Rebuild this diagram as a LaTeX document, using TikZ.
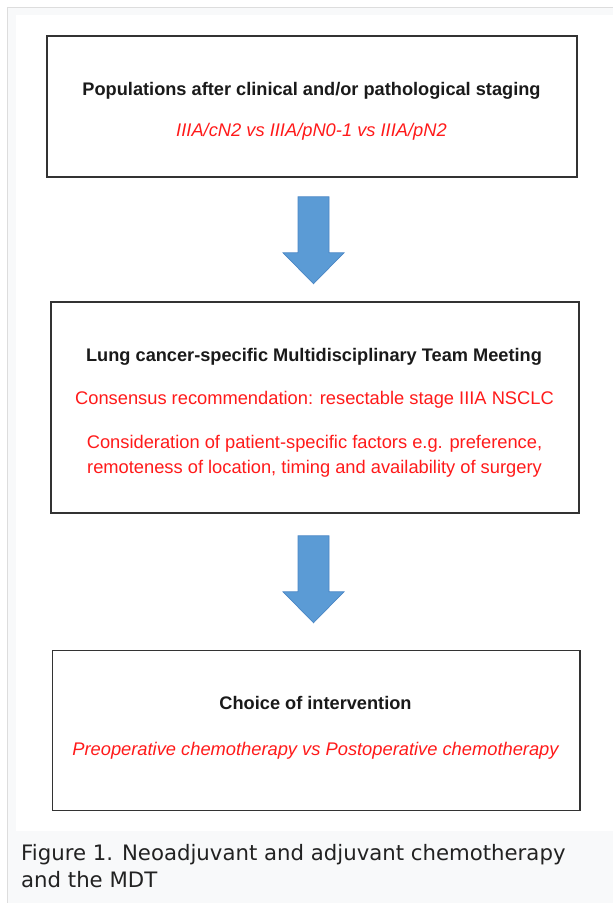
\documentclass[tikz,border=0pt]{standalone}
\usepackage{fontspec}
\usetikzlibrary{calc}
\setmainfont{Liberation Sans}
\newfontfamily\capfont{DejaVu Sans}
\definecolor{frameline}{HTML}{DDDDDD}
\definecolor{framefill}{HTML}{F8F9FA}
\definecolor{boxline}{HTML}{333333}
\definecolor{arrowfill}{HTML}{5B9BD5}
\definecolor{arrowline}{HTML}{4A86C5}
\definecolor{txtred}{HTML}{FF1A1A}
\definecolor{txtdark}{HTML}{1A1A1A}
\definecolor{captxt}{HTML}{222222}
\tikzset{
  stagebox/.style={draw=boxline, line width=1.5pt, fill=white, inner sep=0pt},
  titletxt/.style={anchor=base, inner sep=0pt, text=txtdark, font=\fontsize{18.2}{22}\selectfont\bfseries},
  redtxt/.style={anchor=base, inner sep=0pt, text=txtred, font=\fontsize{18.3}{22}\selectfont},
  reditxt/.style={anchor=base, inner sep=0pt, text=txtred, font=\fontsize{18.3}{22}\selectfont\itshape},
  captiontxt/.style={anchor=base west, inner sep=0pt, text=captxt, font=\capfont\fontsize{21.25}{27}\selectfont},
  blockarrow/.pic={\filldraw[fill=arrowfill, draw=arrowline, line width=0.7pt, line join=miter]
     (-15.5,0) -- (15.5,0) -- (15.5,56) -- (30.5,56) -- (0,87) -- (-30.5,56) -- (-15.5,56) -- cycle;}
}
\begin{document}
\begin{tikzpicture}[x=1pt, y=-1pt]
\useasboundingbox (0,0) rectangle (613,903);
% page frame
\fill[white] (0,0) rectangle (613,903);
\filldraw[fill=framefill, draw=frameline, line width=1.2pt] (7.5,7.5) rectangle (620,910);
\fill[white] (15.5,14.5) rectangle (613,830.5);
% boxes
\node[stagebox, minimum width=530pt, minimum height=141pt] (box1) at (312,106.5) {};
\node[stagebox, minimum width=528pt, minimum height=211pt] (box2) at (315,407.5) {};
\node[stagebox, minimum width=527.5pt, minimum height=160pt] (box3) at (316.25,730.5) {};
% texts
\node[titletxt] (t1) at (311.5,95) {Populations after clinical and/or pathological staging};
\node[reditxt] (r1) at (311.5,136) {IIIA/cN2 vs IIIA/pN0-1 vs IIIA/pN2};
\node[titletxt] (t2) at (314,361) {Lung cancer-specific Multidisciplinary Team Meeting};
\node[redtxt] (r2a) at (314.5,404) {Consensus recommendation: resectable stage IIIA NSCLC};
\node[redtxt] (r2b) at (314.5,448) {Consideration of patient-specific factors e.g. preference,};
\node[redtxt] (r2c) at (314.5,473) {remoteness of location, timing and availability of surgery};
\node[titletxt] (t3) at (315.5,709) {Choice of intervention};
\node[reditxt] (r3) at (315.5,755) {Preoperative chemotherapy vs Postoperative chemotherapy};
% block arrows between boxes
\coordinate (a1start) at ($(box1.south)+(1.5,19)$);
\coordinate (a2start) at ($(box2.south)+(-1.5,22)$);
\pic at (a1start) {blockarrow};
\pic at (a2start) {blockarrow};
% caption
\node[captiontxt] (cap1) at (21,860) {Figure 1. Neoadjuvant and adjuvant chemotherapy};
\node[captiontxt] (cap2) at (21,887) {and the MDT};
\end{tikzpicture}
\end{document}
